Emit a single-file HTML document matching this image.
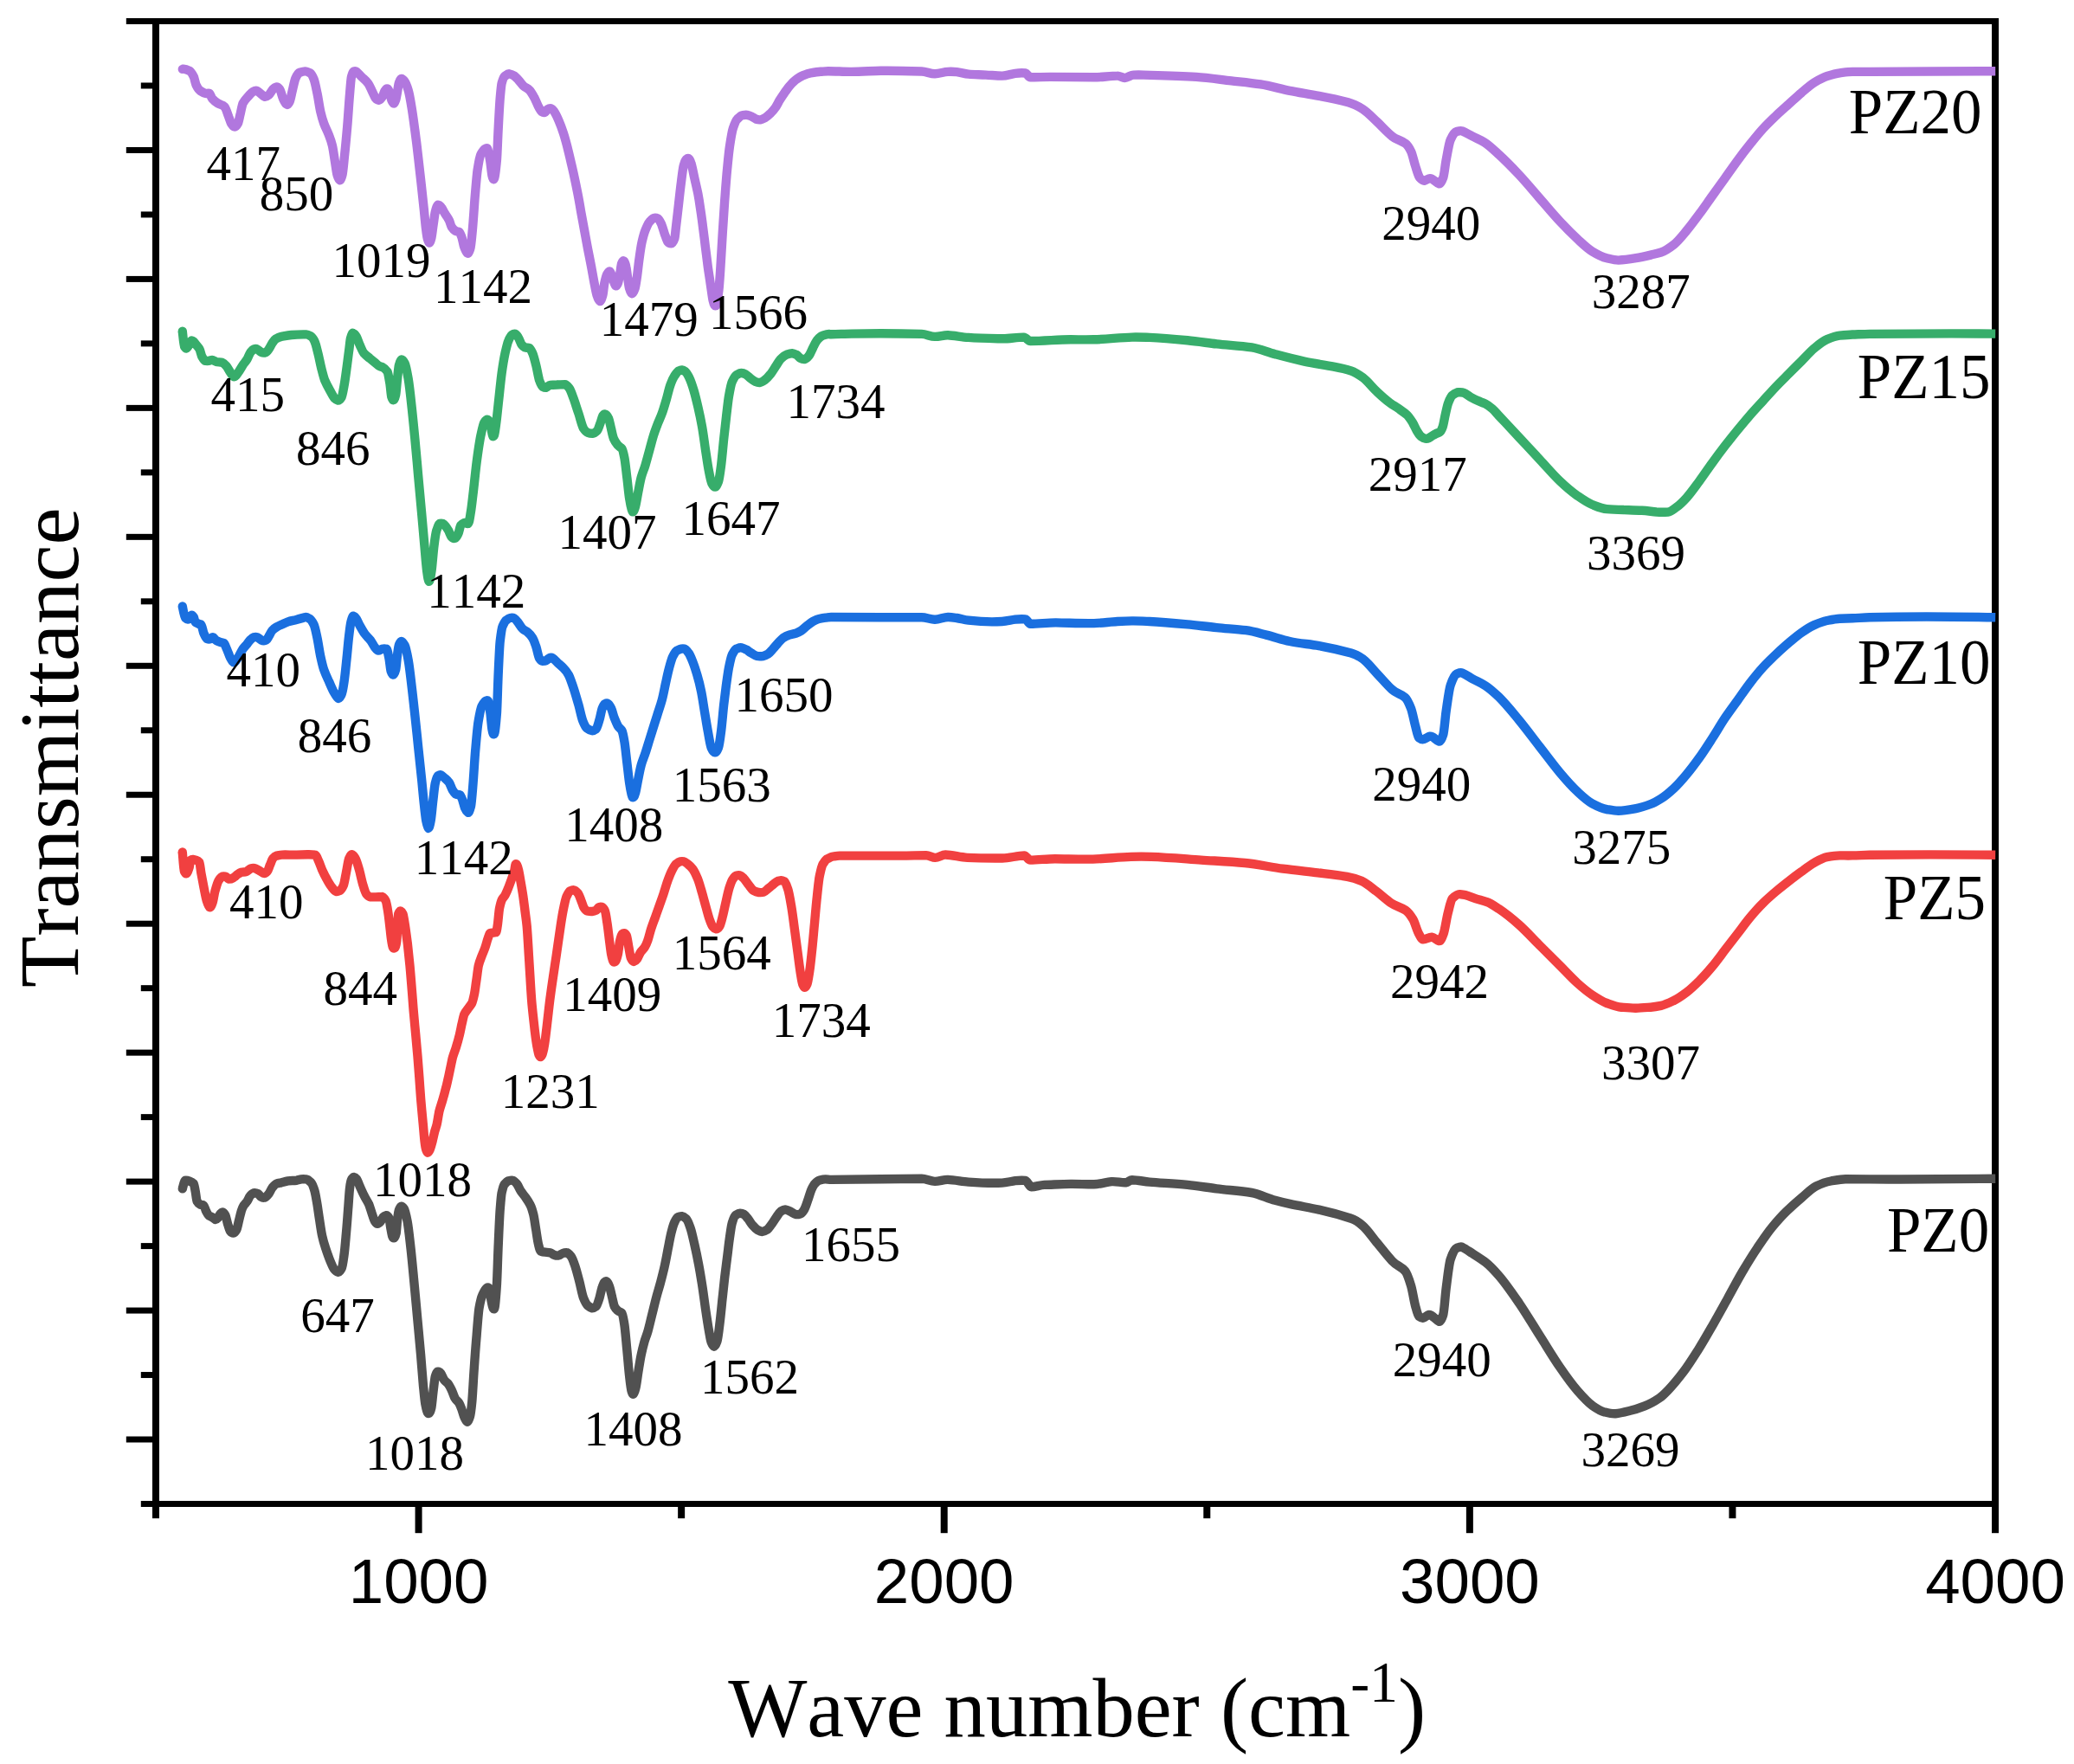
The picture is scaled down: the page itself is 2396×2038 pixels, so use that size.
<!DOCTYPE html>
<html><head><meta charset="utf-8"><title>FTIR spectra</title>
<style>html,body{margin:0;padding:0;background:#fff}svg{display:block}</style></head>
<body>
<svg xmlns="http://www.w3.org/2000/svg" width="2396" height="2038" viewBox="0 0 2396 2038">
<rect width="2396" height="2038" fill="#fff"/>
<g fill="#000">
<rect x="176.00" y="21.00" width="8.0" height="1733.20"/>
<rect x="2301.00" y="21.00" width="8.0" height="1750.20"/>
<rect x="145.80" y="21.00" width="2163.20" height="7.0"/>
<rect x="162.80" y="1734.00" width="2146.20" height="7.0"/>
<rect x="162.80" y="95.48" width="17.20" height="7.0"/>
<rect x="145.80" y="169.96" width="34.20" height="7.0"/>
<rect x="162.80" y="244.43" width="17.20" height="7.0"/>
<rect x="145.80" y="318.91" width="34.20" height="7.0"/>
<rect x="162.80" y="393.39" width="17.20" height="7.0"/>
<rect x="145.80" y="467.87" width="34.20" height="7.0"/>
<rect x="162.80" y="542.35" width="17.20" height="7.0"/>
<rect x="145.80" y="616.83" width="34.20" height="7.0"/>
<rect x="162.80" y="691.30" width="17.20" height="7.0"/>
<rect x="145.80" y="765.78" width="34.20" height="7.0"/>
<rect x="162.80" y="840.26" width="17.20" height="7.0"/>
<rect x="145.80" y="914.74" width="34.20" height="7.0"/>
<rect x="162.80" y="989.22" width="17.20" height="7.0"/>
<rect x="145.80" y="1063.70" width="34.20" height="7.0"/>
<rect x="162.80" y="1138.17" width="17.20" height="7.0"/>
<rect x="145.80" y="1212.65" width="34.20" height="7.0"/>
<rect x="162.80" y="1287.13" width="17.20" height="7.0"/>
<rect x="145.80" y="1361.61" width="34.20" height="7.0"/>
<rect x="162.80" y="1436.09" width="17.20" height="7.0"/>
<rect x="145.80" y="1510.57" width="34.20" height="7.0"/>
<rect x="162.80" y="1585.04" width="17.20" height="7.0"/>
<rect x="145.80" y="1659.52" width="34.20" height="7.0"/>
<rect x="479.57" y="1737.50" width="8.0" height="33.70"/>
<rect x="783.14" y="1737.50" width="8.0" height="16.70"/>
<rect x="1086.71" y="1737.50" width="8.0" height="33.70"/>
<rect x="1390.29" y="1737.50" width="8.0" height="16.70"/>
<rect x="1693.86" y="1737.50" width="8.0" height="33.70"/>
<rect x="1997.43" y="1737.50" width="8.0" height="16.70"/>
</g>
<g fill="none" stroke-width="10.4" stroke-linejoin="round" stroke-linecap="butt">
<path stroke="#515151" d="M210.8 1373.4C211.9 1369.2 213.0 1363.9 214.1 1363.8C215.7 1363.6 217.3 1364.1 218.9 1364.7C220.5 1365.3 222.1 1366.0 223.8 1367.6C224.4 1368.3 225.0 1373.0 225.7 1376.3C226.3 1379.6 227.0 1386.7 227.6 1387.9C228.9 1390.2 230.2 1391.1 231.5 1391.7C232.8 1392.3 234.0 1391.5 235.3 1392.7C236.3 1393.6 237.3 1397.6 238.2 1399.4C239.2 1401.3 240.1 1403.5 241.1 1404.2C242.4 1405.3 243.7 1405.3 245.0 1406.2C246.3 1407.0 247.5 1408.6 248.8 1409.1C249.8 1409.4 250.8 1408.2 251.7 1407.2C252.7 1406.1 253.6 1403.5 254.6 1402.3C255.6 1401.2 256.5 1400.4 257.5 1400.4C258.5 1400.4 259.4 1402.2 260.4 1404.2C261.4 1406.3 262.3 1411.9 263.3 1414.9C264.3 1417.8 265.2 1421.4 266.2 1422.6C267.3 1423.9 268.4 1424.6 269.5 1424.5C270.7 1424.4 272.0 1423.1 273.3 1420.7C274.2 1419.1 275.0 1414.3 275.8 1411.0C276.8 1407.2 277.8 1402.4 278.7 1399.4C279.7 1396.5 280.6 1394.2 281.6 1392.7C282.9 1390.7 284.2 1389.8 285.5 1387.9C286.8 1385.9 288.0 1382.4 289.3 1381.1C290.9 1379.5 292.5 1378.3 294.1 1378.2C295.4 1378.1 296.7 1378.5 298.0 1379.2C299.3 1379.9 300.6 1382.3 301.9 1383.0C303.1 1383.8 304.4 1384.0 305.7 1383.6C307.3 1383.2 308.9 1381.2 310.5 1379.2C311.8 1377.6 313.1 1374.1 314.4 1372.4C316.0 1370.4 317.6 1368.1 319.2 1367.6C321.1 1367.0 323.1 1366.7 325.0 1366.3C327.6 1365.6 330.1 1364.8 332.7 1364.3C335.9 1363.8 339.1 1364.2 342.4 1363.8C344.3 1363.5 346.2 1362.7 348.1 1362.4C350.1 1362.1 352.0 1362.3 353.9 1362.4C355.9 1362.5 357.8 1364.7 359.7 1366.6C361.0 1367.9 362.3 1371.9 363.6 1376.3C364.5 1379.6 365.5 1385.9 366.5 1391.7C367.4 1397.5 368.4 1404.9 369.4 1411.0C370.3 1417.1 371.3 1424.1 372.3 1428.4C373.5 1434.0 374.8 1438.0 376.1 1441.9C377.7 1446.7 379.3 1451.4 380.9 1455.4C382.5 1459.3 384.2 1463.8 385.8 1466.0C387.4 1468.2 389.0 1469.4 390.6 1469.8C392.0 1470.2 393.4 1467.5 394.8 1465.0C395.7 1463.5 396.5 1457.4 397.3 1451.5C398.2 1445.6 399.0 1435.8 399.8 1426.4C400.6 1417.8 401.4 1407.3 402.1 1397.5C402.8 1389.3 403.4 1377.4 404.1 1372.4C404.7 1367.4 405.4 1363.7 406.0 1362.8C407.0 1361.4 407.9 1359.7 408.9 1359.9C409.9 1360.0 410.8 1360.5 411.8 1361.8C413.1 1363.6 414.4 1367.6 415.6 1370.5C417.3 1374.1 418.9 1377.8 420.5 1381.1C422.4 1385.1 424.3 1387.2 426.3 1391.7C427.5 1394.7 428.8 1399.6 430.1 1403.3C431.1 1406.0 432.0 1409.4 433.0 1411.0C434.0 1412.6 434.9 1414.0 435.9 1413.9C437.2 1413.8 438.5 1412.5 439.8 1411.0C440.7 1409.9 441.7 1407.2 442.6 1406.2C443.8 1405.0 445.0 1404.5 446.1 1404.2C447.2 1404.0 448.3 1405.1 449.4 1407.2C450.0 1408.4 450.7 1415.2 451.3 1418.7C452.0 1422.2 452.6 1426.7 453.3 1428.4C453.9 1430.0 454.5 1430.3 455.2 1430.3C456.0 1430.3 456.9 1428.1 457.7 1424.5C458.1 1422.6 458.6 1412.6 459.1 1409.1C459.7 1404.0 460.3 1398.9 461.0 1397.5C461.8 1395.6 462.6 1393.7 463.5 1393.7C464.6 1393.6 465.7 1394.9 466.8 1396.5C468.0 1398.5 469.3 1404.4 470.6 1411.0C471.9 1417.6 473.2 1430.4 474.5 1441.9C475.8 1453.4 477.0 1466.9 478.3 1480.4C479.6 1493.9 480.9 1508.7 482.2 1522.9C483.5 1537.0 484.8 1550.6 486.1 1565.3C487.0 1576.3 488.0 1589.8 488.9 1600.0C489.7 1608.1 490.5 1616.8 491.2 1621.2C492.1 1626.0 492.9 1630.7 493.8 1631.8C494.4 1632.7 495.0 1633.1 495.7 1632.8C496.5 1632.4 497.4 1630.4 498.2 1627.0C499.0 1623.9 499.7 1613.8 500.5 1607.7C501.3 1601.6 502.1 1593.0 502.8 1590.4C503.9 1586.9 504.9 1584.5 505.9 1584.6C507.0 1584.7 508.1 1585.0 509.2 1586.5C510.5 1588.3 511.8 1592.4 513.0 1594.2C514.7 1596.5 516.3 1596.9 517.9 1599.0C519.2 1600.8 520.4 1603.2 521.7 1605.8C523.0 1608.4 524.3 1613.1 525.6 1615.4C527.2 1618.4 528.8 1618.4 530.4 1621.2C531.4 1622.9 532.3 1625.4 533.3 1628.0C534.3 1630.5 535.2 1634.3 536.2 1636.7C537.3 1639.3 538.4 1641.5 539.5 1642.4C540.6 1643.5 541.8 1639.6 542.9 1636.7C543.7 1634.7 544.5 1627.5 545.3 1619.3C546.1 1610.5 546.9 1592.6 547.8 1580.7C548.7 1567.0 549.7 1553.6 550.7 1542.2C551.6 1530.7 552.6 1516.8 553.5 1511.3C554.8 1503.9 556.1 1498.6 557.4 1495.9C558.7 1493.2 560.0 1490.6 561.3 1489.1C562.5 1487.6 563.8 1486.5 565.1 1488.5C565.8 1489.6 566.4 1496.3 567.0 1499.7C567.7 1503.2 568.3 1506.8 569.0 1509.4C569.6 1511.9 570.3 1512.5 570.9 1512.3C571.9 1511.9 572.9 1499.0 573.9 1484.3C574.5 1474.7 575.1 1450.4 575.8 1436.1C576.4 1421.9 577.1 1406.0 577.7 1397.5C578.4 1388.9 579.0 1381.0 579.6 1378.2C580.6 1374.0 581.6 1369.6 582.5 1368.6C584.1 1366.8 585.8 1364.8 587.4 1364.3C589.0 1363.9 590.6 1363.4 592.2 1363.8C593.8 1364.1 595.4 1365.7 597.0 1367.6C598.6 1369.5 600.2 1373.8 601.8 1376.3C603.8 1379.2 605.7 1381.2 607.6 1384.0C609.2 1386.3 610.8 1388.7 612.4 1391.7C613.7 1394.1 615.0 1398.0 616.3 1403.3C617.3 1407.3 618.2 1414.9 619.2 1420.7C620.1 1426.4 621.1 1434.2 622.1 1438.0C623.0 1441.8 624.0 1445.5 625.0 1445.7C626.6 1446.2 628.2 1446.5 629.8 1446.7C631.7 1446.9 633.6 1446.9 635.6 1447.3C637.2 1447.6 638.8 1449.4 640.4 1450.0C642.0 1450.5 643.6 1450.9 645.2 1450.5C646.8 1450.2 648.4 1448.6 650.0 1448.0C651.6 1447.4 653.3 1447.2 654.9 1447.3C656.5 1447.3 658.1 1449.5 659.7 1451.5C661.3 1453.5 662.9 1458.4 664.5 1463.1C666.1 1467.8 667.7 1474.4 669.3 1480.4C670.9 1486.5 672.5 1495.5 674.1 1499.7C675.8 1503.9 677.4 1507.1 679.0 1508.4C680.6 1509.7 682.2 1511.0 683.8 1511.3C685.4 1511.6 687.0 1510.6 688.6 1509.4C689.9 1508.3 691.2 1503.8 692.5 1499.7C693.4 1496.7 694.4 1491.1 695.4 1488.2C696.3 1485.2 697.3 1482.4 698.2 1481.4C699.2 1480.4 700.2 1480.2 701.1 1480.8C702.1 1481.4 703.1 1483.6 704.0 1486.2C705.0 1488.9 706.0 1493.9 706.9 1497.8C707.9 1501.7 708.9 1507.4 709.8 1509.4C711.1 1512.0 712.4 1513.0 713.7 1514.2C715.3 1515.7 716.9 1515.4 718.5 1517.1C719.5 1518.1 720.4 1524.1 721.4 1530.6C722.4 1537.0 723.3 1549.5 724.3 1559.5C725.3 1569.5 726.2 1582.0 727.2 1590.4C728.0 1597.6 728.9 1605.3 729.7 1607.7C730.3 1609.6 731.0 1611.0 731.6 1610.6C732.5 1610.0 733.4 1607.5 734.3 1603.9C735.4 1599.7 736.4 1590.8 737.4 1584.6C738.5 1578.0 739.6 1570.5 740.7 1565.3C742.0 1559.1 743.3 1554.2 744.5 1549.9C745.8 1545.5 747.1 1542.8 748.4 1538.3C750.0 1532.6 751.6 1525.4 753.2 1519.0C754.8 1512.6 756.4 1505.8 758.0 1499.7C759.6 1493.6 761.3 1488.4 762.9 1482.4C764.5 1476.3 766.1 1470.3 767.7 1463.1C769.0 1457.4 770.3 1450.2 771.5 1443.8C772.8 1437.4 774.1 1429.7 775.4 1424.5C776.7 1419.3 778.0 1414.5 779.3 1412.0C780.5 1409.4 781.8 1406.8 783.1 1406.2C784.7 1405.4 786.3 1405.0 787.9 1405.2C789.5 1405.4 791.2 1406.7 792.8 1408.1C794.4 1409.5 796.0 1414.1 797.6 1418.7C799.2 1423.3 800.8 1431.0 802.4 1438.0C804.0 1445.0 805.6 1452.6 807.2 1461.2C808.5 1468.0 809.8 1476.0 811.1 1484.3C812.4 1492.6 813.7 1502.6 814.9 1511.3C816.2 1520.0 817.5 1529.0 818.8 1536.4C819.8 1541.9 820.7 1548.4 821.7 1550.8C822.8 1553.6 823.9 1555.5 825.0 1555.7C826.1 1555.8 827.3 1553.1 828.4 1549.9C829.4 1547.1 830.4 1538.3 831.3 1530.6C832.3 1522.9 833.3 1512.6 834.2 1503.6C835.2 1494.6 836.2 1484.9 837.1 1476.6C838.1 1468.3 839.0 1461.1 840.0 1453.4C841.0 1445.7 841.9 1437.0 842.9 1430.3C843.9 1423.5 844.8 1416.0 845.8 1412.9C847.1 1408.8 848.4 1405.1 849.6 1404.2C851.3 1403.1 852.9 1401.8 854.5 1401.8C856.1 1401.7 857.7 1402.0 859.3 1402.9C860.9 1403.8 862.5 1406.1 864.1 1408.1C865.7 1410.1 867.3 1413.0 868.9 1414.9C870.9 1417.1 872.8 1419.5 874.7 1420.7C876.7 1421.8 878.6 1422.9 880.5 1423.0C882.4 1423.0 884.4 1421.9 886.3 1420.7C887.9 1419.6 889.5 1417.0 891.1 1414.9C893.0 1412.3 895.0 1408.9 896.9 1406.2C898.5 1403.9 900.1 1401.0 901.7 1399.8C903.7 1398.5 905.6 1397.1 907.5 1397.5C909.4 1397.9 911.4 1398.9 913.3 1399.8C915.2 1400.7 917.2 1402.2 919.1 1402.9C921.0 1403.6 922.9 1402.9 924.9 1402.3C926.3 1401.9 927.7 1399.8 929.1 1397.5C930.6 1395.1 932.1 1390.1 933.5 1385.9C934.8 1382.3 936.1 1377.3 937.4 1374.4C938.7 1371.5 940.0 1368.9 941.3 1367.6C942.9 1366.0 944.5 1364.1 946.1 1363.8C948.7 1363.1 951.2 1362.3 953.8 1362.4C955.9 1362.5 958.0 1362.9 960.1 1362.9C979.3 1362.7 998.4 1362.4 1017.5 1362.2C1033.2 1362.0 1049.0 1361.8 1064.8 1361.8C1069.8 1361.9 1074.9 1364.8 1079.9 1364.9C1085.0 1365.0 1090.1 1362.7 1095.1 1362.9C1103.0 1363.2 1110.9 1365.0 1118.8 1365.6C1131.7 1366.5 1144.6 1367.2 1157.6 1366.6C1162.6 1366.3 1167.7 1364.9 1172.8 1364.2C1176.7 1363.7 1180.6 1363.5 1184.6 1363.9C1186.8 1364.1 1189.1 1371.3 1191.3 1371.3C1196.4 1371.2 1201.4 1369.1 1206.5 1368.9C1216.6 1368.6 1226.8 1368.0 1236.9 1367.9C1245.9 1367.8 1254.9 1368.4 1263.9 1368.3C1270.6 1368.1 1277.4 1365.9 1284.1 1365.2C1289.8 1364.7 1295.4 1366.6 1301.0 1366.2C1303.3 1366.1 1305.5 1363.1 1307.8 1363.2C1314.5 1363.4 1321.3 1365.0 1328.0 1365.6C1342.6 1366.8 1357.3 1367.4 1371.9 1368.9C1383.1 1370.1 1394.4 1371.9 1405.6 1373.3C1419.1 1375.0 1432.6 1375.7 1446.1 1378.0C1455.1 1379.6 1464.1 1384.4 1473.1 1386.8C1478.8 1388.4 1484.4 1389.7 1490.0 1390.9C1501.3 1393.3 1512.5 1395.2 1523.8 1397.6C1536.1 1400.3 1548.5 1403.6 1560.9 1407.8C1565.4 1409.2 1569.9 1412.3 1574.4 1416.2C1580.0 1421.0 1585.6 1429.7 1591.3 1436.4C1596.9 1443.2 1602.5 1450.6 1608.2 1456.7C1613.2 1462.2 1618.3 1462.9 1623.3 1468.5C1625.6 1471.0 1627.8 1477.9 1630.1 1485.4C1631.8 1491.0 1633.5 1502.8 1635.2 1509.0C1636.5 1513.9 1637.9 1519.8 1639.2 1520.8C1641.0 1522.1 1642.8 1523.2 1644.6 1522.5C1646.5 1521.8 1648.5 1519.6 1650.4 1519.1C1654.3 1518.2 1658.3 1524.8 1662.2 1526.6C1663.9 1527.3 1665.6 1524.1 1667.2 1519.1C1668.4 1515.8 1669.5 1497.4 1670.6 1488.8C1672.3 1475.9 1674.0 1459.9 1675.7 1455.0C1677.9 1448.4 1680.2 1443.0 1682.4 1442.2C1684.7 1441.3 1686.9 1439.8 1689.2 1440.8C1693.1 1442.7 1697.1 1445.7 1701.0 1448.2C1706.1 1451.5 1711.1 1454.5 1716.2 1458.4C1721.3 1462.3 1726.3 1467.8 1731.4 1473.6C1739.3 1482.6 1747.1 1494.1 1755.0 1505.6C1762.9 1517.2 1770.8 1530.4 1778.6 1542.8C1786.5 1555.1 1794.4 1568.5 1802.3 1579.9C1809.0 1589.7 1815.8 1599.2 1822.5 1606.9C1828.1 1613.3 1833.8 1619.8 1839.4 1623.8C1843.9 1626.9 1848.4 1630.1 1852.9 1631.2C1857.4 1632.3 1861.9 1633.6 1866.4 1633.2C1872.0 1632.7 1877.6 1631.2 1883.3 1629.8C1888.9 1628.5 1894.5 1626.6 1900.1 1624.4C1905.8 1622.3 1911.4 1619.1 1917.0 1615.3C1920.7 1612.9 1924.3 1608.9 1928.0 1605.1C1933.7 1599.2 1939.3 1592.2 1945.0 1584.7C1950.7 1577.2 1956.3 1568.2 1962.0 1559.2C1967.7 1550.2 1973.3 1540.2 1979.0 1530.3C1984.7 1520.4 1990.4 1509.9 1996.1 1499.7C2001.8 1489.5 2007.4 1478.6 2013.1 1469.0C2018.8 1459.4 2024.4 1450.2 2030.1 1441.8C2035.8 1433.4 2041.4 1424.9 2047.1 1418.0C2052.8 1411.1 2058.4 1404.8 2064.1 1399.3C2069.8 1393.8 2075.4 1388.8 2081.1 1384.0C2086.8 1379.2 2092.4 1373.2 2098.1 1370.4C2103.8 1367.6 2109.4 1365.5 2115.1 1364.5C2120.8 1363.5 2126.4 1362.2 2132.1 1362.2C2152.7 1362.2 2173.2 1362.6 2193.8 1362.5C2230.9 1362.3 2268.0 1362.2 2305.2 1361.8"/>
<path stroke="#F14040" d="M210.8 984.4C211.5 993.9 212.2 1005.3 212.9 1006.7C213.9 1008.7 214.9 1010.1 215.9 1008.8C216.8 1007.6 217.7 1005.5 218.6 1002.4C219.1 1000.8 219.6 994.4 220.1 993.9C221.0 993.2 222.0 992.7 222.9 992.9C224.3 993.1 225.7 993.5 227.1 993.9C228.2 994.2 229.2 994.7 230.3 996.1C231.0 997.0 231.7 1004.8 232.4 1008.8C233.5 1014.7 234.6 1020.5 235.6 1025.8C236.7 1031.1 237.7 1037.1 238.8 1040.6C239.9 1044.2 240.9 1047.5 242.0 1048.0C243.2 1048.6 244.4 1046.2 245.6 1042.7C246.5 1040.1 247.4 1033.3 248.3 1030.0C249.8 1024.9 251.2 1019.5 252.6 1017.3C254.0 1015.1 255.4 1012.8 256.8 1012.6C258.2 1012.4 259.7 1012.3 261.1 1013.0C262.1 1013.6 263.2 1015.3 264.2 1015.6C266.0 1016.0 267.8 1015.1 269.6 1014.1C271.3 1013.1 273.1 1011.0 274.9 1009.9C276.3 1009.0 277.7 1008.2 279.1 1007.7C280.9 1007.2 282.6 1007.7 284.4 1007.1C286.2 1006.5 287.9 1004.1 289.7 1003.5C291.1 1003.0 292.5 1002.7 293.9 1003.1C295.7 1003.5 297.5 1004.7 299.3 1005.6C301.0 1006.5 302.8 1008.1 304.6 1008.8C306.0 1009.4 307.4 1008.2 308.8 1006.7C309.9 1005.5 310.9 1001.7 312.0 999.2C313.1 996.8 314.1 993.1 315.2 991.8C316.6 990.1 318.0 988.9 319.4 988.6C321.5 988.2 323.7 987.6 325.8 987.6C331.4 987.5 337.1 987.7 342.8 987.6C347.0 987.5 351.2 987.3 355.5 987.2C358.3 987.1 361.1 987.3 364.0 987.6C365.4 987.7 366.8 992.0 368.2 995.0C369.6 998.0 371.0 1002.5 372.4 1005.6C374.2 1009.5 376.0 1013.1 377.8 1016.2C379.5 1019.3 381.3 1022.5 383.1 1024.7C384.8 1026.9 386.6 1029.3 388.4 1030.0C389.8 1030.6 391.2 1029.7 392.6 1029.0C394.0 1028.2 395.4 1026.0 396.9 1022.6C397.9 1020.0 399.0 1012.8 400.0 1007.7C401.1 1002.6 402.1 994.7 403.2 991.8C404.3 989.0 405.3 987.0 406.4 987.2C407.8 987.4 409.2 989.2 410.6 991.8C412.1 994.4 413.5 999.7 414.9 1004.5C416.3 1009.4 417.7 1016.8 419.1 1021.5C420.5 1026.2 422.0 1031.6 423.4 1033.2C424.8 1034.8 426.2 1036.3 427.6 1036.4C429.7 1036.4 431.9 1036.4 434.0 1036.4C436.4 1036.3 438.9 1036.1 441.4 1036.0C442.8 1035.9 444.2 1038.3 445.6 1040.6C446.3 1041.8 447.0 1046.2 447.7 1050.1C448.5 1054.6 449.3 1061.2 450.0 1067.5C450.7 1072.7 451.3 1080.5 452.0 1084.9C452.6 1089.2 453.2 1093.3 453.9 1094.5C454.7 1096.1 455.6 1095.5 456.4 1094.9C457.0 1094.4 457.7 1091.6 458.3 1086.8C458.6 1084.4 459.0 1072.4 459.3 1067.5C459.6 1062.7 459.9 1056.7 460.2 1055.9C461.1 1053.9 461.9 1052.1 462.8 1052.5C463.7 1052.9 464.6 1053.9 465.5 1055.9C466.3 1057.8 467.1 1064.3 468.0 1069.4C468.9 1075.4 469.9 1082.8 470.9 1090.7C471.7 1097.8 472.6 1106.3 473.5 1115.7C474.3 1124.2 475.1 1134.8 475.9 1144.7C476.6 1152.9 477.2 1162.2 477.9 1170.0C478.7 1179.0 479.4 1186.5 480.2 1195.0C480.9 1203.1 481.7 1210.9 482.4 1219.6C483.0 1227.1 483.7 1235.5 484.3 1244.0C484.9 1252.0 485.5 1261.7 486.1 1269.2C486.6 1275.0 487.0 1279.9 487.5 1285.0C487.9 1289.7 488.4 1294.2 488.8 1298.9C489.4 1305.4 490.0 1314.1 490.6 1318.8C491.1 1323.0 491.7 1326.5 492.2 1328.0C492.8 1329.7 493.4 1331.8 494.1 1331.7C494.9 1331.6 495.7 1330.2 496.5 1328.5C497.5 1326.4 498.5 1322.5 499.5 1318.8C500.3 1315.7 501.2 1311.3 502.0 1308.0C502.9 1304.5 503.8 1302.7 504.7 1298.9C505.6 1294.9 506.6 1287.3 507.5 1283.5C508.7 1278.8 509.8 1275.9 511.0 1271.9C512.1 1268.2 513.2 1264.4 514.2 1260.4C515.2 1256.8 516.2 1253.0 517.1 1248.8C518.1 1244.6 519.1 1239.8 520.0 1235.3C521.0 1230.8 522.0 1225.4 522.9 1221.8C524.2 1217.0 525.5 1214.4 526.8 1210.2C528.1 1206.0 529.4 1201.9 530.6 1196.7C531.6 1192.9 532.6 1187.4 533.5 1183.2C534.5 1179.0 535.5 1173.7 536.4 1171.7C537.7 1169.0 539.0 1167.7 540.3 1165.9C541.9 1163.5 543.5 1161.9 545.1 1159.1C546.1 1157.4 547.0 1153.2 548.0 1148.5C548.8 1144.7 549.5 1138.3 550.3 1133.1C551.2 1127.4 552.0 1119.3 552.8 1115.7C554.1 1110.3 555.4 1107.6 556.7 1104.2C558.0 1100.7 559.3 1098.2 560.5 1094.5C561.5 1091.7 562.5 1087.6 563.4 1084.9C564.4 1082.1 565.4 1078.3 566.3 1078.1C567.6 1077.8 568.9 1077.7 570.2 1077.5C571.1 1077.4 572.1 1077.3 573.1 1077.2C573.7 1077.0 574.4 1071.7 575.0 1067.5C575.6 1063.3 576.3 1053.5 576.9 1050.1C577.9 1045.1 578.9 1041.4 579.8 1039.5C581.1 1037.1 582.4 1036.3 583.7 1033.8C585.0 1031.2 586.3 1028.3 587.5 1025.1C588.8 1021.9 590.1 1018.1 591.4 1014.5C592.4 1011.7 593.3 1009.3 594.3 1005.8C594.7 1004.3 595.1 999.7 595.5 998.9C596.6 996.6 597.8 1000.2 598.9 1004.6C599.8 1008.1 600.7 1013.9 601.6 1019.0C602.5 1024.3 603.5 1029.7 604.4 1036.0C605.1 1041.0 605.9 1047.2 606.6 1053.0C607.3 1058.5 608.0 1062.6 608.7 1070.0C609.4 1077.7 610.2 1092.4 610.9 1104.0C611.4 1112.5 612.0 1121.5 612.5 1130.0C613.0 1138.5 613.6 1148.5 614.1 1155.0C614.9 1165.2 615.8 1172.5 616.6 1180.0C617.3 1186.6 618.1 1193.4 618.8 1198.6C619.5 1203.3 620.1 1207.6 620.8 1211.0C621.4 1213.9 621.9 1217.2 622.5 1218.5C623.1 1219.9 623.8 1221.2 624.4 1221.1C625.0 1221.0 625.7 1219.8 626.3 1218.5C627.0 1217.2 627.6 1214.1 628.3 1211.0C628.9 1208.0 629.6 1203.3 630.2 1198.6C630.9 1193.1 631.7 1186.3 632.4 1180.0C633.4 1171.7 634.3 1162.6 635.3 1155.0C636.5 1145.9 637.6 1138.0 638.8 1130.0C640.1 1121.1 641.4 1112.8 642.7 1104.0C644.3 1092.9 646.0 1080.6 647.6 1070.0C648.5 1063.9 649.5 1057.7 650.4 1053.0C651.7 1046.3 653.1 1039.0 654.4 1036.0C655.8 1033.0 657.1 1030.2 658.5 1029.5C659.9 1028.8 661.3 1028.1 662.7 1028.3C664.3 1028.5 666.0 1029.9 667.6 1031.8C668.9 1033.3 670.2 1037.4 671.4 1040.5C672.4 1042.9 673.4 1046.6 674.3 1048.2C675.6 1050.4 676.9 1052.2 678.2 1052.5C680.1 1052.9 682.0 1053.2 684.0 1053.0C685.6 1052.9 687.2 1052.5 688.8 1051.7C689.8 1051.2 690.7 1048.9 691.7 1048.2C693.0 1047.3 694.3 1047.6 695.5 1047.8C696.6 1048.0 697.7 1049.8 698.8 1052.1C699.7 1053.8 700.5 1060.1 701.3 1065.6C702.2 1071.0 703.0 1078.5 703.8 1084.9C704.6 1090.7 705.4 1098.1 706.1 1102.2C706.9 1106.4 707.7 1110.1 708.5 1110.9C709.5 1112.0 710.5 1111.5 711.5 1109.9C712.3 1108.7 713.1 1105.7 713.9 1102.2C714.6 1098.7 715.4 1090.1 716.2 1086.8C717.0 1083.2 717.9 1079.8 718.7 1079.1C719.5 1078.4 720.4 1078.0 721.2 1078.1C722.1 1078.2 723.0 1079.1 723.9 1081.0C724.7 1082.8 725.6 1090.2 726.4 1094.5C727.2 1098.8 728.1 1105.2 728.9 1107.0C730.0 1109.5 731.1 1111.1 732.2 1110.9C733.5 1110.6 734.8 1109.7 736.0 1108.0C737.3 1106.3 738.6 1102.3 739.9 1100.3C741.5 1097.7 743.1 1097.0 744.7 1094.5C745.9 1092.7 747.1 1090.1 748.2 1086.9C749.5 1083.4 750.8 1077.4 752.1 1073.4C753.7 1068.5 755.3 1064.4 756.9 1059.9C758.5 1055.4 760.1 1050.9 761.7 1046.4C763.3 1041.9 764.9 1037.7 766.5 1032.9C768.1 1028.1 769.8 1021.9 771.4 1017.5C773.0 1013.1 774.6 1009.0 776.2 1005.9C777.8 1002.9 779.4 999.6 781.0 998.2C782.6 996.9 784.2 995.6 785.8 995.3C787.1 995.1 788.4 995.0 789.7 995.3C791.3 995.7 792.9 997.1 794.5 998.2C796.4 999.6 798.4 1001.6 800.3 1004.0C802.2 1006.4 804.1 1010.8 806.1 1015.6C807.7 1019.5 809.3 1025.5 810.9 1031.0C812.5 1036.5 814.1 1042.7 815.7 1048.4C817.0 1052.9 818.3 1058.2 819.6 1061.9C820.9 1065.5 822.1 1069.1 823.4 1070.5C824.7 1072.0 826.0 1073.2 827.3 1073.4C828.6 1073.6 829.9 1072.2 831.1 1070.5C832.4 1068.9 833.7 1063.0 835.0 1058.0C836.3 1053.0 837.6 1046.1 838.9 1040.7C840.1 1035.2 841.4 1029.2 842.7 1025.2C844.0 1021.2 845.3 1017.3 846.6 1015.6C847.9 1013.8 849.1 1012.1 850.4 1011.7C851.7 1011.3 853.0 1011.0 854.3 1011.3C855.9 1011.8 857.5 1013.1 859.1 1014.6C861.0 1016.5 863.0 1019.9 864.9 1022.3C866.8 1024.7 868.8 1028.0 870.7 1029.1C872.6 1030.2 874.5 1030.8 876.5 1031.0C878.4 1031.2 880.3 1031.3 882.3 1030.6C884.2 1030.0 886.1 1027.7 888.0 1026.2C890.0 1024.6 891.9 1022.9 893.8 1021.4C895.4 1020.1 897.0 1018.6 898.6 1017.9C899.9 1017.4 901.2 1017.2 902.5 1017.1C903.8 1017.0 905.1 1017.8 906.4 1018.5C907.6 1019.1 908.9 1023.2 910.2 1027.2C911.5 1031.1 912.8 1038.8 914.1 1046.4C915.4 1054.0 916.7 1064.1 917.9 1073.4C919.2 1082.7 920.5 1092.9 921.8 1102.4C922.9 1110.9 924.1 1120.7 925.3 1127.4C926.0 1131.9 926.8 1136.4 927.6 1138.0C928.4 1139.7 929.1 1141.0 929.9 1140.9C930.7 1140.9 931.6 1139.1 932.4 1137.1C933.4 1134.8 934.3 1128.0 935.3 1121.7C936.3 1115.3 937.2 1105.9 938.2 1096.6C939.2 1087.3 940.1 1076.0 941.1 1065.7C942.0 1055.4 943.0 1043.8 944.0 1034.9C944.9 1025.9 945.9 1016.3 946.9 1011.7C948.2 1005.6 949.4 1000.2 950.7 998.2C952.3 995.8 953.9 993.3 955.5 992.4C957.8 991.3 960.0 989.9 962.3 989.5C964.9 989.1 967.4 988.6 970.0 988.6C995.7 988.4 1021.4 988.7 1047.2 988.6C1054.9 988.5 1062.6 988.2 1070.2 988.2C1073.6 988.2 1077.0 990.8 1080.4 990.9C1084.3 990.9 1088.3 987.4 1092.2 987.5C1100.6 987.7 1109.1 990.5 1117.5 990.9C1131.0 991.5 1144.5 991.6 1158.0 991.5C1166.4 991.5 1174.9 988.5 1183.3 988.5C1185.6 988.5 1187.8 993.6 1190.1 993.6C1199.6 993.6 1209.2 992.2 1218.8 992.2C1233.4 992.3 1248.0 992.9 1262.6 992.6C1277.3 992.2 1291.9 990.3 1306.5 989.9C1314.4 989.6 1322.3 989.6 1330.1 989.9C1349.3 990.6 1368.4 992.3 1387.5 993.6C1404.4 994.7 1421.3 995.4 1438.1 997.0C1452.8 998.3 1467.4 1001.8 1482.0 1003.7C1495.5 1005.5 1509.0 1006.8 1522.5 1008.4C1533.8 1009.8 1545.0 1011.1 1556.3 1012.8C1561.9 1013.7 1567.5 1015.5 1573.1 1017.9C1578.8 1020.3 1584.4 1025.5 1590.0 1029.7C1595.6 1033.9 1601.3 1039.3 1606.9 1043.2C1612.5 1047.1 1618.1 1047.9 1623.8 1051.6C1626.6 1053.5 1629.4 1057.2 1632.2 1061.8C1634.5 1065.4 1636.7 1074.6 1639.0 1078.6C1640.6 1081.7 1642.3 1085.2 1644.0 1085.4C1647.4 1085.7 1650.8 1082.4 1654.2 1082.7C1657.0 1082.9 1659.8 1086.4 1662.6 1087.1C1664.3 1087.5 1666.0 1083.2 1667.7 1078.6C1669.3 1074.1 1671.0 1061.6 1672.7 1055.0C1674.4 1048.4 1676.1 1039.9 1677.8 1038.1C1680.6 1035.3 1683.4 1032.8 1686.2 1033.1C1688.3 1033.3 1690.5 1033.5 1692.6 1034.1C1696.5 1035.2 1700.4 1036.8 1704.4 1038.1C1708.9 1039.6 1713.4 1040.5 1717.9 1042.2C1722.4 1043.9 1726.9 1047.0 1731.4 1049.9C1739.3 1055.1 1747.1 1061.5 1755.0 1068.5C1762.9 1075.5 1770.8 1084.3 1778.6 1092.1C1786.5 1100.0 1794.4 1107.9 1802.3 1115.8C1809.0 1122.5 1815.8 1130.0 1822.5 1136.0C1828.1 1141.0 1833.8 1145.8 1839.4 1149.5C1845.0 1153.2 1850.6 1156.9 1856.3 1159.0C1861.9 1161.0 1867.5 1163.2 1873.1 1163.7C1878.8 1164.2 1884.4 1164.8 1890.0 1164.7C1895.6 1164.6 1901.3 1164.1 1906.9 1163.7C1910.9 1163.4 1915.0 1162.7 1919.0 1161.9C1923.9 1160.9 1928.8 1158.4 1933.7 1156.0C1938.6 1153.6 1943.6 1150.1 1948.5 1146.4C1953.4 1142.7 1958.3 1137.9 1963.2 1133.1C1968.1 1128.3 1973.0 1122.8 1977.9 1116.9C1982.8 1111.0 1987.8 1104.1 1992.7 1097.7C1997.6 1091.3 2002.5 1085.0 2007.4 1078.6C2012.3 1072.2 2017.3 1065.3 2022.2 1059.4C2027.1 1053.5 2032.0 1048.0 2036.9 1043.2C2041.8 1038.4 2046.8 1034.1 2051.7 1029.9C2056.6 1025.8 2061.5 1021.9 2066.4 1018.1C2071.3 1014.3 2076.2 1010.6 2081.1 1007.1C2086.0 1003.5 2091.0 999.6 2095.9 996.8C2100.8 994.0 2105.7 991.0 2110.6 990.1C2115.5 989.2 2120.5 988.4 2125.4 988.4C2130.3 988.4 2135.2 988.5 2140.1 988.4C2146.7 988.3 2153.4 987.9 2160.0 987.8C2208.4 987.2 2256.8 987.3 2305.2 987.8"/>
<path stroke="#1A6FDF" d="M210.8 700.5C211.9 706.3 213.0 713.0 214.1 714.0C215.4 715.2 216.7 716.1 218.0 715.0C218.9 714.1 219.9 711.7 220.9 711.1C221.8 710.5 222.8 711.6 223.8 713.0C224.4 714.0 225.0 718.3 225.7 718.8C227.0 719.9 228.3 720.2 229.5 720.8C230.5 721.2 231.5 721.0 232.4 721.7C233.4 722.4 234.4 729.1 235.3 731.4C236.6 734.3 237.9 737.7 239.2 738.1C240.5 738.5 241.8 738.6 243.0 738.1C244.0 737.7 245.0 736.1 245.9 736.2C247.2 736.3 248.5 739.4 249.8 740.0C251.4 740.9 253.0 741.4 254.6 742.0C255.9 742.4 257.2 742.3 258.5 742.9C259.8 743.6 261.0 747.8 262.3 750.6C263.6 753.5 264.9 758.0 266.2 760.3C267.7 762.9 269.1 765.7 270.6 765.1C272.4 764.5 274.1 761.1 275.8 758.4C277.4 755.8 279.0 752.0 280.6 749.7C282.3 747.4 283.9 745.9 285.5 743.9C286.8 742.3 288.0 740.3 289.3 739.1C290.6 737.8 291.9 736.6 293.2 736.2C294.5 735.8 295.8 735.7 297.0 736.2C298.6 736.8 300.3 738.7 301.9 739.5C303.8 740.4 305.7 740.5 307.6 739.5C308.6 739.0 309.6 736.8 310.5 735.2C311.8 733.2 313.1 729.9 314.4 728.5C316.0 726.7 317.6 725.5 319.2 724.6C321.1 723.5 323.1 722.6 325.0 721.7C327.6 720.6 330.1 719.3 332.7 718.4C335.9 717.4 339.1 716.8 342.4 715.9C344.3 715.4 346.2 714.9 348.1 714.4C349.8 714.0 351.4 713.3 353.0 713.0C354.6 712.7 356.2 714.1 357.8 715.0C359.4 715.8 361.0 718.5 362.6 721.7C363.9 724.3 365.2 731.1 366.5 737.1C367.8 743.2 369.0 752.4 370.3 758.4C371.6 764.3 372.9 770.2 374.2 773.8C376.1 779.2 378.0 783.0 380.0 787.3C381.9 791.6 383.8 796.4 385.8 799.8C387.4 802.7 389.0 805.4 390.6 806.6C391.9 807.5 393.2 804.9 394.4 802.7C395.4 801.1 396.4 795.2 397.3 789.2C398.3 783.3 399.3 773.1 400.2 764.1C401.2 755.2 402.1 743.3 403.1 735.2C403.9 728.2 404.8 720.7 405.6 717.9C406.5 714.8 407.4 711.5 408.3 711.7C409.5 712.0 410.6 713.1 411.8 715.0C413.1 717.1 414.4 720.4 415.6 722.7C417.6 726.2 419.5 729.7 421.4 732.3C423.7 735.4 425.9 737.0 428.2 740.0C429.8 742.2 431.4 745.7 433.0 747.8C434.3 749.4 435.6 751.7 436.9 751.6C438.5 751.5 440.1 750.2 441.7 749.7C443.3 749.2 444.9 749.3 446.5 749.7C447.5 749.9 448.4 755.7 449.4 760.3C450.2 764.0 450.9 773.3 451.7 775.7C452.6 778.4 453.4 779.5 454.2 779.6C455.2 779.6 456.2 777.5 457.1 773.8C457.8 771.3 458.4 761.1 459.1 756.4C459.7 751.8 460.3 746.3 461.0 744.9C461.9 742.7 462.9 740.8 463.9 741.0C465.2 741.3 466.4 743.4 467.7 745.8C469.0 748.3 470.3 755.2 471.6 762.2C472.9 769.2 474.2 780.6 475.4 791.1C476.7 801.7 478.0 813.9 479.3 825.9C480.6 837.7 481.9 850.3 483.1 862.5C484.4 874.7 485.7 886.5 487.0 899.2C488.0 908.7 488.9 920.1 489.9 928.8C490.7 936.4 491.6 944.6 492.4 948.9C493.2 952.8 494.0 956.4 494.7 956.8C495.7 957.2 496.7 953.6 497.6 948.4C498.5 943.9 499.3 933.4 500.1 926.4C501.0 918.9 501.9 908.9 502.8 904.9C503.9 900.4 504.9 896.9 505.9 896.3C507.0 895.6 508.1 894.7 509.2 895.3C510.8 896.2 512.4 897.8 514.0 899.1C515.6 900.5 517.2 901.8 518.8 904.0C520.1 905.7 521.4 910.6 522.7 912.6C524.0 914.7 525.3 916.5 526.5 917.5C528.2 918.7 529.8 917.2 531.4 918.4C532.3 919.2 533.3 921.8 534.3 924.2C535.2 926.7 536.2 931.6 537.2 933.9C538.3 936.6 539.5 938.0 540.6 938.7C541.7 939.3 542.8 935.8 543.9 931.9C544.7 929.0 545.6 916.9 546.4 906.9C547.3 896.1 548.2 879.0 549.1 868.3C550.3 854.6 551.4 840.5 552.6 833.6C553.9 825.9 555.2 818.7 556.4 816.2C557.7 813.7 559.0 811.7 560.3 810.4C561.6 809.2 562.9 808.8 564.2 810.1C564.9 810.8 565.7 818.6 566.5 824.4C567.1 829.2 567.8 838.3 568.4 842.3C569.2 847.1 569.9 848.4 570.7 848.2C571.8 848.0 572.8 837.9 573.9 824.3C574.5 815.9 575.1 789.2 575.8 775.7C576.4 762.3 577.1 746.5 577.7 741.0C578.7 732.6 579.6 725.7 580.6 723.6C581.9 720.9 583.2 717.8 584.5 716.9C586.1 715.7 587.7 714.3 589.3 714.0C590.9 713.7 592.5 713.6 594.1 714.4C595.7 715.2 597.3 717.8 598.9 719.8C600.5 721.8 602.1 724.9 603.8 726.5C605.7 728.5 607.6 728.8 609.5 730.4C611.5 732.0 613.4 734.2 615.3 737.1C616.6 739.1 617.9 743.1 619.2 746.8C620.5 750.5 621.8 758.3 623.0 760.3C624.3 762.3 625.6 763.7 626.9 763.8C628.2 763.8 629.5 763.8 630.8 763.2C632.0 762.6 633.3 760.8 634.6 760.3C635.9 759.7 637.2 759.6 638.5 760.3C640.4 761.3 642.3 763.9 644.2 765.7C646.5 767.8 648.8 769.6 651.0 771.9C652.9 773.8 654.9 776.2 656.8 779.6C658.7 782.9 660.6 789.3 662.6 795.0C664.5 800.7 666.4 807.5 668.4 814.3C670.0 820.0 671.6 828.5 673.2 832.6C674.8 836.7 676.4 840.1 678.0 841.3C679.9 842.7 681.9 843.9 683.8 844.2C685.4 844.4 687.0 843.5 688.6 842.3C689.9 841.2 691.2 835.9 692.5 831.6C693.6 828.0 694.7 820.8 695.8 818.1C696.8 815.7 697.8 813.9 698.8 813.3C699.9 812.7 701.0 812.3 702.1 812.8C703.4 813.3 704.7 815.5 706.0 818.1C707.3 820.8 708.5 826.4 709.8 829.7C711.1 833.0 712.4 836.0 713.7 838.4C715.3 841.4 716.9 841.2 718.5 844.2C719.5 846.0 720.4 851.1 721.4 856.9C722.4 862.7 723.3 872.8 724.3 880.8C725.3 888.8 726.2 898.5 727.2 904.8C728.3 912.0 729.4 919.5 730.5 920.8C731.6 922.3 732.8 920.7 733.9 916.7C734.9 913.3 735.9 907.1 736.8 902.4C738.1 896.1 739.4 888.6 740.7 884.0C742.3 878.1 743.9 875.2 745.5 870.2C747.1 865.3 748.7 859.9 750.3 854.8C751.9 849.6 753.5 844.5 755.1 839.4C756.8 834.2 758.4 829.1 760.0 823.9C761.6 818.8 763.2 814.5 764.8 808.5C766.1 803.7 767.4 796.9 768.6 791.1C769.9 785.4 771.2 778.7 772.5 773.8C774.1 767.7 775.7 761.4 777.3 758.4C778.9 755.3 780.5 752.5 782.1 751.6C783.8 750.8 785.4 750.0 787.0 749.7C788.3 749.5 789.5 749.5 790.8 749.7C792.4 750.0 794.0 752.3 795.6 754.5C797.3 756.7 798.9 761.1 800.5 765.1C802.1 769.1 803.7 774.2 805.3 779.6C806.9 784.9 808.5 791.0 810.1 798.9C811.4 805.1 812.7 814.6 814.0 822.3C815.3 830.0 816.5 837.9 817.8 844.9C819.1 851.8 820.4 860.8 821.7 863.9C823.2 867.4 824.6 869.3 826.1 869.4C827.4 869.5 828.7 866.8 830.0 863.7C831.1 861.0 832.2 851.6 833.3 843.0C834.2 835.4 835.2 823.4 836.1 814.9C837.1 806.3 838.1 798.2 839.0 791.2C840.0 784.1 841.0 776.7 841.9 771.9C843.2 765.4 844.5 758.9 845.8 756.4C847.4 753.4 849.0 750.3 850.6 749.7C852.5 749.0 854.5 747.9 856.4 748.3C858.3 748.8 860.3 749.6 862.2 750.6C864.1 751.7 866.0 753.4 868.0 754.5C870.2 755.8 872.5 757.4 874.7 758.0C877.0 758.5 879.2 758.3 881.5 758.0C883.4 757.7 885.3 756.7 887.3 755.5C889.2 754.3 891.1 751.8 893.0 749.7C895.0 747.6 896.9 745.0 898.8 742.9C900.8 740.8 902.7 738.5 904.6 737.1C906.9 735.6 909.1 734.4 911.4 733.7C913.9 732.8 916.5 732.6 919.1 731.8C921.3 731.0 923.6 729.9 925.8 728.5C928.1 727.0 930.3 724.4 932.6 722.7C934.8 720.9 937.1 719.1 939.3 717.9C941.6 716.7 943.8 715.5 946.1 715.0C948.7 714.4 951.2 713.9 953.8 713.6C955.9 713.4 958.0 713.0 960.1 713.0C979.3 713.0 998.4 713.3 1017.5 713.3C1033.2 713.4 1049.0 713.3 1064.8 713.3C1069.8 713.3 1074.9 715.6 1079.9 715.7C1085.0 715.8 1090.1 713.1 1095.1 713.0C1098.5 712.9 1101.9 713.5 1105.3 714.0C1109.8 714.7 1114.3 716.2 1118.8 716.7C1131.7 718.2 1144.6 719.0 1157.6 718.0C1162.6 717.7 1167.7 716.4 1172.8 715.7C1176.7 715.2 1180.6 715.0 1184.6 715.4C1186.5 715.5 1188.4 720.7 1190.3 720.8C1200.2 720.8 1210.1 719.3 1220.0 719.4C1234.6 719.6 1249.3 720.4 1263.9 720.1C1272.9 719.9 1281.9 718.5 1290.9 718.0C1296.5 717.7 1302.1 717.4 1307.8 717.4C1314.5 717.3 1321.3 717.7 1328.0 718.0C1342.6 718.8 1357.3 720.1 1371.9 721.4C1383.1 722.5 1394.4 724.0 1405.6 725.1C1416.9 726.3 1428.1 726.7 1439.4 728.2C1447.3 729.2 1455.1 731.6 1463.0 733.6C1472.0 735.8 1481.0 739.1 1490.0 741.0C1501.3 743.4 1512.5 744.1 1523.8 746.1C1536.1 748.3 1548.5 751.1 1560.9 754.5C1565.4 755.7 1569.9 758.1 1574.4 761.2C1580.0 765.2 1585.6 772.9 1591.3 778.8C1596.9 784.7 1602.5 791.5 1608.2 796.7C1613.2 801.4 1618.3 801.4 1623.3 805.8C1625.6 807.8 1627.8 812.6 1630.1 818.6C1631.8 823.1 1633.5 832.7 1635.2 838.9C1636.5 843.8 1637.9 851.3 1639.2 852.4C1641.0 853.8 1642.8 854.6 1644.6 854.1C1647.1 853.3 1649.6 851.2 1652.1 850.7C1655.4 850.0 1658.8 855.1 1662.2 856.4C1663.9 857.1 1665.6 853.9 1667.2 849.0C1668.4 845.8 1669.5 829.7 1670.6 822.0C1672.3 810.5 1674.0 796.5 1675.7 791.6C1677.9 785.2 1680.2 779.7 1682.4 778.8C1684.7 777.9 1686.9 776.5 1689.2 777.5C1693.1 779.2 1697.1 782.0 1701.0 784.2C1706.1 787.0 1711.1 789.1 1716.2 792.3C1721.3 795.5 1726.3 800.2 1731.4 805.1C1739.3 812.8 1747.1 822.6 1755.0 832.1C1762.9 841.7 1770.8 852.4 1778.6 862.5C1786.5 872.6 1794.4 883.6 1802.3 892.9C1809.0 900.9 1815.8 908.6 1822.5 914.8C1828.1 920.0 1833.8 925.4 1839.4 928.3C1845.0 931.3 1850.6 934.0 1856.3 935.1C1860.8 935.9 1865.3 936.9 1869.8 936.8C1876.5 936.6 1883.3 935.3 1890.0 934.1C1895.6 933.0 1901.3 931.1 1906.9 929.0C1910.9 927.5 1915.0 925.1 1919.0 922.6C1923.9 919.6 1928.8 915.3 1933.7 910.8C1938.6 906.3 1943.6 900.5 1948.5 894.6C1953.4 888.8 1958.3 882.2 1963.2 875.4C1968.1 868.6 1973.0 860.9 1977.9 853.3C1982.8 845.7 1987.8 837.1 1992.7 829.7C1997.6 822.4 2002.5 815.9 2007.4 809.1C2012.3 802.2 2017.3 794.9 2022.2 788.5C2027.1 782.2 2032.0 776.1 2036.9 770.8C2041.8 765.4 2046.8 760.6 2051.7 756.0C2056.6 751.4 2061.5 746.9 2066.4 742.8C2071.3 738.7 2076.2 734.4 2081.1 731.0C2086.0 727.6 2091.0 724.2 2095.9 722.1C2100.8 720.0 2105.7 718.0 2110.6 717.0C2115.5 716.0 2120.5 714.9 2125.4 714.7C2130.3 714.5 2135.2 714.5 2140.1 714.3C2146.7 714.0 2153.4 713.5 2160.0 713.3C2208.4 712.0 2256.8 712.4 2305.2 713.3"/>
<path stroke="#37AD6B" d="M210.8 382.8C211.6 390.4 212.4 399.4 213.1 400.5C214.1 401.9 215.1 403.2 216.0 402.0C217.0 400.9 218.0 399.3 218.9 397.6C219.6 396.5 220.2 394.2 220.9 393.8C221.8 393.1 222.8 393.8 223.8 394.7C225.0 396.0 226.3 397.9 227.6 399.5C228.6 400.8 229.5 401.7 230.5 403.4C231.5 405.1 232.4 410.3 233.4 412.1C234.7 414.4 236.0 416.7 237.2 416.9C238.5 417.0 239.8 417.1 241.1 416.9C242.4 416.7 243.7 415.9 245.0 415.9C246.6 416.0 248.2 417.4 249.8 417.9C252.0 418.5 254.3 418.2 256.5 418.8C258.1 419.3 259.8 420.9 261.4 422.7C263.0 424.5 264.6 428.2 266.2 430.4C267.7 432.4 269.1 435.3 270.6 435.2C272.4 435.2 274.1 431.8 275.8 429.4C277.4 427.2 279.0 424.2 280.6 421.7C282.3 419.3 283.9 417.6 285.5 415.0C286.8 412.9 288.0 409.0 289.3 407.2C290.6 405.5 291.9 403.8 293.2 403.4C294.5 403.0 295.8 402.8 297.0 403.4C298.6 404.1 300.3 406.1 301.9 406.9C303.5 407.6 305.1 407.7 306.7 407.2C308.0 406.9 309.3 405.1 310.5 403.4C311.8 401.7 313.1 398.5 314.4 396.6C315.7 394.8 317.0 392.6 318.2 391.8C320.5 390.5 322.8 389.4 325.0 388.9C328.9 388.2 332.7 387.4 336.6 387.0C342.4 386.4 348.1 386.3 353.9 386.4C355.9 386.4 357.8 387.8 359.7 388.9C361.0 389.7 362.3 392.0 363.6 394.7C364.9 397.4 366.1 403.1 367.4 408.2C368.7 413.3 370.0 420.5 371.3 425.6C372.6 430.7 373.9 435.9 375.1 439.1C377.1 443.8 379.0 447.2 380.9 450.6C382.9 454.1 384.8 458.3 386.7 460.3C388.0 461.6 389.3 462.3 390.6 462.6C391.9 462.9 393.2 461.2 394.4 459.3C395.4 457.9 396.4 451.9 397.3 446.8C398.3 441.6 399.3 434.4 400.2 427.5C401.2 420.6 402.1 412.7 403.1 405.4C403.8 400.5 404.4 393.2 405.0 390.8C406.0 387.2 407.0 384.6 407.9 385.0C409.2 385.4 410.5 386.7 411.8 389.1C413.1 391.5 414.4 395.7 415.6 398.5C417.3 402.1 418.9 406.4 420.5 408.2C422.7 410.8 425.0 412.1 427.2 414.0C429.2 415.6 431.1 417.2 433.0 418.8C434.6 420.1 436.2 421.6 437.8 422.7C439.4 423.7 441.0 423.8 442.6 424.6C444.3 425.4 445.9 427.1 447.5 429.4C448.4 430.8 449.4 437.2 450.4 442.9C451.0 446.7 451.7 456.0 452.3 458.4C453.1 461.1 453.8 462.3 454.6 462.2C455.4 462.1 456.3 460.2 457.1 456.4C457.8 453.6 458.4 442.9 459.1 437.1C459.7 431.5 460.3 424.0 461.0 421.7C461.9 418.2 462.9 415.6 463.9 415.5C465.2 415.5 466.4 417.2 467.7 419.8C469.0 422.4 470.3 429.7 471.6 437.1C472.9 444.6 474.2 456.5 475.4 468.0C476.7 479.5 478.0 493.1 479.3 506.6C480.6 520.1 481.9 534.9 483.1 549.0C484.4 563.2 485.7 577.0 487.0 591.4C488.2 604.4 489.3 618.5 490.5 631.4C491.4 641.3 492.3 653.4 493.2 660.0C494.0 666.1 494.9 671.9 495.7 671.9C496.7 671.9 497.6 665.6 498.6 659.0C499.5 652.3 500.5 637.6 501.5 630.3C502.4 623.0 503.4 615.4 504.4 612.6C505.7 609.0 506.9 605.2 508.2 604.9C509.8 604.6 511.4 604.5 513.0 605.9C514.7 607.3 516.3 610.0 517.9 612.6C519.2 614.8 520.4 618.8 521.7 620.4C523.0 621.9 524.3 622.3 525.6 621.9C526.9 621.5 528.2 619.1 529.4 616.5C530.4 614.5 531.4 608.1 532.3 606.9C533.6 605.2 534.9 604.5 536.2 604.0C537.8 603.4 539.4 605.5 541.0 604.9C542.0 604.6 542.9 597.3 543.9 591.4C544.9 585.6 545.8 576.5 546.8 568.3C548.1 557.4 549.4 543.3 550.7 533.6C552.3 521.4 553.9 510.2 555.5 502.7C556.8 496.7 558.0 490.5 559.3 488.2C560.9 485.5 562.5 483.9 564.2 485.4C565.1 486.2 566.1 489.7 567.0 493.1C567.7 495.3 568.3 500.7 569.0 502.7C569.6 504.8 570.3 504.5 571.0 502.7C571.9 500.1 572.9 491.2 573.9 483.4C574.8 475.7 575.8 465.1 576.8 456.4C577.7 447.8 578.7 438.2 579.6 431.4C580.9 422.2 582.2 414.0 583.5 408.2C584.8 402.4 586.1 396.4 587.4 393.6C588.6 390.8 589.9 388.1 591.2 387.1C592.5 386.2 593.8 385.4 595.1 385.8C596.4 386.2 597.6 388.1 598.9 390.1C600.2 392.0 601.5 396.9 602.8 398.4C604.1 400.0 605.4 400.9 606.6 401.5C608.2 402.1 609.9 401.4 611.5 402.0C612.8 402.6 614.0 405.4 615.3 408.2C616.6 411.1 617.9 416.7 619.2 421.7C620.5 426.8 621.8 435.3 623.0 439.1C624.3 442.8 625.6 446.1 626.9 446.8C628.2 447.5 629.5 448.3 630.8 447.8C632.4 447.1 634.0 445.0 635.6 444.9C638.1 444.7 640.7 444.6 643.3 444.5C646.5 444.3 649.7 444.2 652.9 444.1C654.5 444.1 656.1 446.5 657.8 448.7C659.4 451.0 661.0 455.9 662.6 460.3C664.5 465.5 666.4 471.9 668.4 477.6C670.3 483.4 672.2 491.8 674.1 495.0C675.8 497.6 677.4 499.3 679.0 499.8C680.9 500.5 682.8 500.9 684.8 500.8C686.4 500.7 688.0 499.5 689.6 497.9C690.9 496.7 692.1 492.5 693.4 489.2C694.4 486.7 695.4 482.1 696.3 480.5C697.3 479.0 698.3 478.4 699.2 478.6C700.5 478.8 701.8 480.6 703.1 483.4C704.0 485.6 705.0 491.1 706.0 495.0C706.9 498.9 707.9 504.3 708.9 506.6C710.5 510.4 712.1 512.3 713.7 514.3C715.3 516.3 716.9 516.3 718.5 518.4C719.5 519.6 720.4 524.0 721.4 529.0C722.4 534.0 723.3 543.8 724.3 551.7C725.3 559.5 726.2 569.9 727.2 576.1C728.3 583.0 729.4 590.2 730.5 591.1C731.6 592.1 732.8 589.9 733.9 585.7C734.9 582.1 735.9 575.7 736.8 570.9C738.1 564.4 739.4 556.6 740.7 551.7C742.3 545.6 743.9 542.8 745.5 537.4C747.1 532.0 748.7 525.9 750.3 520.1C751.9 514.3 753.5 507.8 755.1 502.7C756.8 497.6 758.4 493.4 760.0 489.2C761.6 485.1 763.2 482.1 764.8 477.6C766.4 473.2 768.0 467.7 769.6 462.2C771.2 456.8 772.8 449.3 774.4 444.9C776.0 440.4 777.7 436.6 779.3 434.2C780.9 431.9 782.5 429.2 784.1 428.5C785.4 427.8 786.7 427.4 787.9 427.5C789.2 427.6 790.5 428.5 791.8 429.4C793.4 430.6 795.0 434.0 796.6 437.1C798.2 440.3 799.8 445.4 801.4 450.6C803.0 455.9 804.7 463.0 806.3 469.9C807.9 476.8 809.5 484.1 811.1 493.1C812.4 500.4 813.7 510.6 814.9 519.0C816.2 527.4 817.5 536.9 818.8 543.6C819.9 549.6 821.1 555.9 822.3 558.3C823.6 560.9 824.8 562.6 826.1 562.6C827.4 562.7 828.7 559.6 830.0 556.3C831.1 553.4 832.2 544.4 833.3 535.9C834.2 528.3 835.2 516.7 836.1 507.8C837.1 498.8 838.1 490.1 839.0 481.8C840.0 473.6 841.0 464.0 841.9 458.4C843.2 450.8 844.5 443.7 845.8 441.0C847.4 437.6 849.0 434.1 850.6 433.3C852.5 432.3 854.5 430.9 856.4 431.0C858.0 431.1 859.6 431.5 861.2 432.3C863.1 433.3 865.1 435.7 867.0 437.1C868.9 438.6 870.9 440.2 872.8 441.0C874.4 441.7 876.0 442.1 877.6 442.0C879.5 441.8 881.5 440.4 883.4 439.1C885.6 437.6 887.9 435.1 890.1 432.3C892.1 430.0 894.0 426.5 895.9 423.6C897.9 420.8 899.8 417.0 901.7 415.0C904.0 412.6 906.2 410.6 908.5 409.8C910.7 409.0 913.0 408.1 915.2 408.2C916.8 408.3 918.4 409.0 920.0 409.8C921.7 410.6 923.3 413.1 924.9 414.0C926.5 414.9 928.1 415.2 929.7 415.0C931.3 414.8 932.9 413.1 934.5 411.1C936.1 409.1 937.7 404.5 939.3 401.5C940.9 398.4 942.5 394.7 944.2 392.8C946.1 390.5 948.0 388.6 949.9 388.0C952.5 387.1 955.1 385.9 957.7 386.0C958.5 386.1 959.3 386.3 960.1 386.2C968.0 386.1 975.9 385.7 983.8 385.6C1010.8 385.1 1037.8 385.2 1064.8 385.9C1069.8 386.0 1074.9 388.8 1079.9 388.9C1085.0 389.1 1090.1 387.0 1095.1 387.2C1103.0 387.6 1110.9 389.5 1118.8 389.9C1131.7 390.8 1144.6 391.0 1157.6 391.3C1166.0 391.5 1174.4 389.5 1182.9 389.6C1185.4 389.6 1187.8 394.0 1190.3 394.0C1205.8 394.0 1221.4 392.4 1236.9 392.3C1245.9 392.3 1254.9 392.5 1263.9 392.3C1278.5 392.0 1293.1 390.0 1307.8 389.6C1314.5 389.4 1321.3 389.7 1328.0 389.9C1342.6 390.6 1357.3 391.9 1371.9 393.3C1383.1 394.4 1394.4 396.1 1405.6 397.4C1419.1 398.9 1432.6 399.3 1446.1 401.4C1455.1 402.8 1464.1 406.8 1473.1 409.2C1484.4 412.2 1495.6 415.2 1506.9 417.6C1518.1 420.0 1529.4 421.5 1540.7 423.7C1547.4 425.0 1554.2 426.4 1560.9 428.4C1565.4 429.8 1569.9 432.8 1574.4 436.2C1580.0 440.4 1585.6 447.9 1591.3 453.1C1596.1 457.6 1601.0 462.0 1605.9 465.6C1609.2 468.0 1612.4 469.8 1615.7 472.1C1619.0 474.4 1622.3 476.5 1625.6 479.5C1627.8 481.5 1629.9 485.0 1632.1 488.5C1633.7 491.2 1635.4 495.3 1637.0 498.0C1638.3 500.2 1639.7 502.4 1641.0 503.6C1642.2 504.6 1643.3 505.6 1644.5 506.0C1645.6 506.4 1646.6 506.9 1647.7 506.9C1648.7 506.9 1649.8 506.5 1650.8 506.0C1651.9 505.5 1652.9 504.6 1654.0 503.9C1655.5 503.0 1656.9 502.1 1658.4 501.3C1660.0 500.4 1661.7 500.1 1663.3 499.2C1664.4 498.6 1665.5 496.4 1666.6 493.4C1667.7 490.5 1668.7 483.2 1669.8 478.7C1670.9 474.0 1672.0 468.4 1673.1 465.6C1674.7 461.4 1676.4 457.7 1678.0 456.6C1680.2 455.1 1682.4 453.5 1684.6 453.3C1686.8 453.1 1688.9 453.0 1691.1 453.8C1693.8 454.8 1696.6 457.5 1699.3 459.0C1702.0 460.5 1704.8 461.9 1707.5 463.1C1710.2 464.3 1713.0 465.1 1715.7 466.4C1718.4 467.7 1721.2 469.8 1723.9 472.1C1726.4 474.2 1728.9 477.4 1731.4 480.1C1739.3 488.5 1747.1 496.9 1755.0 505.4C1762.9 513.8 1770.8 522.3 1778.6 530.7C1786.5 539.1 1794.4 548.6 1802.3 556.0C1809.0 562.4 1815.8 568.2 1822.5 572.9C1828.1 576.8 1833.8 580.8 1839.4 583.0C1845.0 585.2 1850.6 587.7 1856.3 588.1C1863.0 588.5 1869.8 588.8 1876.5 589.1C1883.3 589.3 1890.0 589.4 1896.8 589.8C1902.4 590.1 1908.0 591.0 1913.6 591.5C1918.1 591.8 1922.6 591.8 1927.1 591.5C1930.3 591.2 1933.5 588.2 1936.7 586.0C1940.6 583.2 1944.6 579.2 1948.5 574.9C1953.4 569.5 1958.3 562.4 1963.2 555.8C1968.1 549.2 1973.0 541.8 1977.9 535.1C1982.8 528.3 1987.8 521.6 1992.7 515.2C1997.6 508.9 2002.5 502.8 2007.4 496.8C2012.3 490.8 2017.3 484.8 2022.2 479.1C2027.1 473.5 2032.0 468.3 2036.9 462.9C2041.8 457.5 2046.8 451.9 2051.7 446.7C2056.6 441.6 2061.5 436.8 2066.4 431.9C2071.3 427.0 2076.2 422.1 2081.1 417.2C2086.0 412.3 2091.0 406.6 2095.9 402.4C2100.8 398.3 2105.7 394.1 2110.6 392.1C2115.5 390.1 2120.5 388.2 2125.4 387.7C2130.3 387.2 2135.2 386.7 2140.1 386.5C2146.7 386.3 2153.4 386.0 2160.0 385.9C2208.4 385.4 2256.8 385.1 2305.2 385.6"/>
<path stroke="#B177DE" d="M210.8 79.9C213.5 79.2 216.2 80.4 218.9 81.8C220.5 82.7 222.1 85.3 223.8 88.6C224.7 90.5 225.7 96.3 226.6 98.2C228.2 101.4 229.9 104.0 231.5 105.0C233.4 106.2 235.3 107.3 237.2 107.9C238.9 108.4 240.5 107.1 242.1 107.9C243.0 108.3 244.0 112.5 245.0 113.7C247.2 116.2 249.5 117.9 251.7 119.4C254.3 121.2 256.9 120.7 259.4 123.3C261.0 124.9 262.6 130.8 264.2 134.9C265.2 137.3 266.2 140.8 267.1 142.6C268.3 144.6 269.5 146.0 270.6 146.4C272.0 146.9 273.4 145.4 274.9 142.6C275.8 140.7 276.8 134.8 277.8 131.0C278.7 127.1 279.7 121.4 280.6 119.4C282.6 115.5 284.5 113.8 286.4 111.7C288.4 109.7 290.3 107.0 292.2 105.9C293.8 105.0 295.4 104.3 297.0 105.0C298.6 105.7 300.3 107.6 301.9 108.8C303.1 109.8 304.4 111.2 305.7 111.7C307.3 112.4 308.9 111.1 310.5 109.8C312.1 108.5 313.8 104.6 315.4 103.0C316.6 101.8 317.9 100.8 319.2 100.5C320.5 100.2 321.8 101.4 323.1 103.0C324.4 104.6 325.6 110.8 326.9 113.7C328.2 116.5 329.5 119.3 330.8 120.4C332.1 121.5 333.4 120.3 334.6 117.5C335.6 115.4 336.6 109.8 337.5 105.9C338.8 100.8 340.1 93.4 341.4 90.5C343.0 86.9 344.6 84.3 346.2 83.8C348.5 83.0 350.7 82.2 353.0 82.4C354.9 82.5 356.8 83.7 358.8 84.7C360.0 85.4 361.3 88.3 362.6 91.5C363.9 94.6 365.2 101.7 366.5 107.9C367.8 114.1 369.0 123.5 370.3 129.1C371.6 134.6 372.9 139.1 374.2 142.6C376.1 147.8 378.0 151.1 380.0 156.1C381.3 159.4 382.5 162.4 383.8 167.7C384.8 171.6 385.8 179.2 386.7 185.0C387.7 190.8 388.6 198.9 389.6 202.4C390.6 205.8 391.5 207.8 392.5 208.2C393.5 208.5 394.4 205.9 395.4 202.4C396.4 198.8 397.3 186.5 398.3 177.3C399.3 168.0 400.2 157.9 401.2 146.4C402.2 135.0 403.1 119.1 404.1 107.9C404.7 100.4 405.4 90.8 406.0 88.6C407.0 85.2 407.9 82.5 408.9 82.4C409.9 82.3 410.8 82.0 411.8 82.8C413.7 84.3 415.6 86.6 417.6 88.6C420.1 91.1 422.7 92.9 425.3 96.3C426.9 98.4 428.5 102.7 430.1 105.9C431.4 108.5 432.7 112.1 434.0 113.7C435.3 115.2 436.5 115.9 437.8 115.6C439.1 115.3 440.4 113.6 441.7 111.7C442.7 110.3 443.6 106.5 444.6 105.0C445.5 103.4 446.5 102.3 447.5 102.5C448.4 102.6 449.4 105.3 450.4 107.9C451.0 109.6 451.7 113.9 452.3 115.6C453.1 117.6 453.8 119.2 454.6 119.4C455.4 119.7 456.3 117.9 457.1 115.6C457.8 113.8 458.4 109.3 459.1 105.9C459.7 102.6 460.3 97.1 461.0 95.3C461.9 92.6 462.9 90.7 463.9 90.9C465.2 91.1 466.4 92.6 467.7 94.4C469.0 96.1 470.3 99.8 471.6 104.0C472.9 108.2 474.2 115.8 475.4 123.3C476.7 130.8 478.0 140.7 479.3 150.3C480.6 159.9 481.9 170.3 483.1 181.2C484.4 192.1 485.7 204.1 487.0 215.9C488.0 224.7 488.9 233.6 489.9 242.9C490.5 249.1 491.2 256.7 491.8 262.1C492.5 267.6 493.1 273.2 493.8 275.6C494.4 278.1 495.0 280.3 495.7 280.5C496.5 280.7 497.4 278.9 498.2 275.6C499.0 272.7 499.7 265.4 500.5 260.2C501.3 255.1 502.1 247.8 502.8 244.8C504.0 240.2 505.1 236.4 506.3 236.7C507.6 237.0 508.9 238.1 510.1 240.0C511.4 241.9 512.7 244.5 514.0 246.7C515.6 249.4 517.2 251.3 518.8 254.4C519.8 256.3 520.8 260.7 521.7 262.1C523.3 264.6 524.9 266.0 526.5 267.0C527.8 267.7 529.1 267.1 530.4 267.9C531.4 268.5 532.3 271.1 533.3 273.7C534.3 276.3 535.2 282.6 536.2 285.3C537.5 288.9 538.8 291.5 540.0 292.6C541.1 293.5 542.2 290.4 543.3 287.2C544.2 284.8 545.0 274.9 545.8 266.0C546.8 255.7 547.8 238.9 548.7 227.4C549.7 216.0 550.7 202.9 551.6 196.6C552.9 188.1 554.2 180.5 555.5 178.2C557.1 175.5 558.7 173.1 560.3 171.9C561.3 171.2 562.2 170.8 563.2 171.5C564.2 172.2 565.1 179.4 566.1 185.0C566.9 189.5 567.6 198.3 568.4 202.4C569.0 205.7 569.7 207.1 570.3 207.2C571.5 207.3 572.7 197.8 573.9 185.0C574.5 178.0 575.1 158.2 575.8 146.4C576.4 134.7 577.1 121.3 577.7 113.7C578.4 106.0 579.0 98.6 579.6 96.3C580.6 92.8 581.6 89.3 582.5 88.6C584.5 87.2 586.4 85.0 588.3 85.3C590.2 85.6 592.2 86.3 594.1 87.6C595.7 88.7 597.3 90.7 598.9 92.4C600.9 94.5 602.8 97.3 604.7 99.2C607.0 101.4 609.2 101.8 611.5 104.0C613.4 105.9 615.3 109.2 617.2 112.7C618.9 115.6 620.5 120.4 622.1 123.3C623.4 125.6 624.6 128.2 625.9 129.1C627.2 129.9 628.5 130.3 629.8 129.5C630.8 128.9 631.7 126.8 632.7 126.2C634.0 125.3 635.3 124.9 636.5 125.2C637.8 125.5 639.1 127.3 640.4 129.1C642.0 131.2 643.6 135.1 645.2 138.7C647.1 143.1 649.1 148.3 651.0 154.2C652.9 160.1 654.9 167.7 656.8 175.4C658.7 183.0 660.6 191.7 662.6 200.4C664.2 207.7 665.8 215.3 667.4 223.6C668.7 230.2 670.0 237.7 671.2 244.8C672.5 251.9 673.8 258.9 675.1 266.0C676.4 273.1 677.7 280.5 679.0 287.2C680.3 294.0 681.5 299.8 682.8 306.5C684.1 313.2 685.4 321.2 686.7 327.7C687.6 332.6 688.6 338.3 689.6 341.2C690.7 344.7 691.9 347.5 693.0 348.0C694.1 348.4 695.2 345.2 696.3 341.2C697.0 338.9 697.6 330.8 698.2 327.7C699.2 323.0 700.2 318.8 701.1 317.1C702.4 314.9 703.7 312.3 705.0 314.2C706.0 315.7 706.9 319.4 707.9 321.9C708.9 324.5 709.8 328.0 710.8 329.6C711.8 331.3 712.7 329.9 713.7 327.7C714.5 325.9 715.4 320.5 716.2 316.1C716.8 312.8 717.5 306.6 718.1 304.6C719.0 301.8 719.9 301.0 720.8 301.7C721.7 302.3 722.5 304.8 723.3 308.4C724.0 311.2 724.6 317.8 725.3 321.9C725.9 326.1 726.5 331.4 727.2 333.5C728.1 336.8 729.1 339.2 730.1 339.3C731.2 339.5 732.4 336.9 733.5 333.5C734.3 331.3 735.1 325.3 735.9 320.0C736.8 313.4 737.8 303.5 738.8 296.9C739.7 290.2 740.7 283.7 741.6 279.5C742.9 274.0 744.2 269.1 745.5 266.0C747.1 262.2 748.7 258.2 750.3 256.4C751.9 254.5 753.5 252.7 755.1 252.1C756.8 251.5 758.4 251.8 760.0 252.5C761.3 253.1 762.5 255.6 763.8 258.3C765.1 261.0 766.4 266.3 767.7 269.9C769.0 273.4 770.3 277.7 771.5 279.5C772.8 281.3 774.1 281.4 775.4 281.4C776.7 281.5 778.0 279.4 779.3 275.6C779.9 273.8 780.5 265.6 781.2 260.2C782.2 252.1 783.1 243.5 784.1 235.2C785.0 226.8 786.0 217.5 787.0 210.1C787.9 202.7 788.9 194.1 789.9 190.8C790.8 187.5 791.8 184.9 792.8 184.0C793.7 183.2 794.7 182.6 795.6 183.1C796.6 183.6 797.6 185.9 798.5 188.9C799.8 192.8 801.1 200.4 802.4 206.2C803.7 212.0 805.0 217.1 806.3 223.6C807.2 228.4 808.2 234.6 809.1 240.9C810.1 247.3 811.1 254.8 812.0 262.1C813.0 269.6 814.0 277.6 814.9 285.3C815.9 293.0 816.9 301.4 817.8 308.4C818.8 315.5 819.8 321.3 820.7 327.7C821.7 334.2 822.7 342.6 823.6 347.0C824.9 352.9 826.2 354.3 827.5 352.8C828.4 351.7 829.4 343.6 830.4 335.4C831.0 330.0 831.7 319.9 832.3 310.4C833.1 299.0 833.8 284.1 834.6 271.8C835.4 258.4 836.3 244.8 837.1 233.2C838.1 219.8 839.0 206.9 840.0 196.6C841.0 186.3 841.9 176.1 842.9 169.6C844.2 160.9 845.5 152.1 846.8 148.4C848.4 143.7 850.0 139.3 851.6 137.8C853.5 135.9 855.4 133.7 857.4 133.3C859.3 133.0 861.2 132.6 863.1 132.9C865.1 133.3 867.0 134.0 868.9 134.9C870.5 135.6 872.2 137.2 873.8 137.8C875.4 138.3 877.0 138.5 878.6 138.3C880.5 138.1 882.4 136.9 884.4 135.8C886.3 134.7 888.2 132.8 890.1 131.0C892.1 129.2 894.0 127.0 895.9 124.2C897.5 122.0 899.2 118.2 900.8 115.6C902.7 112.4 904.6 109.6 906.5 106.9C908.5 104.2 910.4 101.4 912.3 99.2C914.6 96.6 916.8 94.1 919.1 92.4C921.7 90.5 924.2 88.7 926.8 87.6C930.0 86.3 933.2 84.9 936.4 84.3C940.3 83.7 944.2 83.1 948.0 82.8C950.9 82.6 953.8 82.2 956.8 82.2C965.8 82.2 974.8 83.0 983.8 82.9C995.0 82.7 1006.2 82.1 1017.5 81.8C1033.2 81.5 1049.0 82.0 1064.8 82.5C1069.8 82.7 1074.9 85.2 1079.9 85.2C1085.0 85.3 1090.1 83.1 1095.1 82.9C1098.5 82.7 1101.9 82.8 1105.3 83.2C1109.8 83.7 1114.3 85.2 1118.8 85.6C1125.5 86.1 1132.3 86.2 1139.0 86.6C1145.2 86.9 1151.4 87.5 1157.6 87.6C1162.6 87.7 1167.7 85.6 1172.8 84.9C1176.7 84.3 1180.6 84.1 1184.6 84.5C1186.5 84.8 1188.4 89.3 1190.3 89.3C1198.0 89.3 1205.6 88.9 1213.3 88.9C1230.1 89.0 1247.0 89.2 1263.9 89.3C1272.9 89.3 1281.9 87.7 1290.9 87.6C1293.7 87.5 1296.5 90.0 1299.3 90.0C1302.7 89.9 1306.1 86.7 1309.5 86.6C1313.4 86.5 1317.3 86.5 1321.3 86.6C1341.5 87.2 1361.8 87.7 1382.0 88.9C1395.5 89.8 1409.0 91.8 1422.5 93.3C1433.8 94.6 1445.0 95.6 1456.3 97.4C1467.5 99.1 1478.8 102.6 1490.0 104.8C1501.3 107.0 1512.5 108.7 1523.8 110.9C1535.0 113.0 1546.3 115.3 1557.5 118.3C1563.1 119.8 1568.8 122.6 1574.4 126.1C1580.0 129.6 1585.6 136.0 1591.3 141.2C1596.9 146.5 1602.5 152.9 1608.2 157.4C1613.2 161.6 1618.3 161.9 1623.3 165.6C1625.6 167.2 1627.8 170.4 1630.1 175.0C1631.8 178.4 1633.5 186.9 1635.2 191.9C1636.8 196.9 1638.5 203.4 1640.2 205.4C1641.9 207.3 1643.6 209.0 1645.3 208.8C1647.5 208.4 1649.8 206.2 1652.1 206.1C1655.4 205.9 1658.8 210.9 1662.2 212.1C1663.9 212.8 1665.6 209.6 1667.2 205.4C1668.4 202.5 1669.5 191.0 1670.6 185.1C1672.3 176.3 1674.0 165.2 1675.7 161.5C1677.9 156.6 1680.2 152.6 1682.4 152.1C1684.7 151.5 1686.9 150.5 1689.2 151.4C1693.1 152.9 1697.1 155.5 1701.0 157.4C1705.5 159.7 1710.0 161.5 1714.5 164.2C1720.1 167.6 1725.8 173.2 1731.4 178.4C1739.3 185.6 1747.1 193.6 1755.0 202.0C1762.9 210.4 1770.8 220.0 1778.6 229.0C1786.5 238.0 1794.4 247.6 1802.3 256.0C1809.0 263.2 1815.8 270.1 1822.5 276.3C1828.1 281.4 1833.8 287.1 1839.4 290.4C1845.0 293.8 1850.6 296.8 1856.3 298.2C1860.8 299.3 1865.3 300.7 1869.8 300.6C1876.5 300.4 1883.3 299.3 1890.0 298.2C1896.8 297.1 1903.5 295.4 1910.3 293.8C1913.2 293.1 1916.1 292.4 1919.0 291.5C1923.9 289.9 1928.8 286.4 1933.7 282.6C1938.6 278.8 1943.6 272.3 1948.5 266.4C1953.4 260.5 1958.3 253.8 1963.2 247.2C1968.1 240.6 1973.0 233.4 1977.9 226.6C1982.8 219.7 1987.8 212.9 1992.7 206.0C1997.6 199.1 2002.5 191.9 2007.4 185.3C2012.3 178.6 2017.3 172.2 2022.2 166.1C2027.1 160.0 2032.0 153.8 2036.9 148.5C2041.8 143.1 2046.8 138.4 2051.7 133.7C2056.6 129.1 2061.5 124.8 2066.4 120.4C2071.3 116.0 2076.2 111.4 2081.1 107.2C2086.0 103.0 2091.0 98.5 2095.9 95.4C2100.8 92.4 2105.7 89.5 2110.6 88.0C2115.5 86.4 2120.5 84.9 2125.4 84.3C2130.3 83.7 2135.2 82.9 2140.1 82.9C2146.7 82.9 2153.4 82.9 2160.0 82.9C2208.4 82.6 2256.8 82.5 2305.2 82.2"/>
</g>
<circle cx="210.8" cy="1373.4" r="5.2" fill="#515151"/>
<circle cx="210.8" cy="984.4" r="5.2" fill="#F14040"/>
<circle cx="210.8" cy="700.5" r="5.2" fill="#1A6FDF"/>
<circle cx="210.8" cy="382.8" r="5.2" fill="#37AD6B"/>
<circle cx="210.8" cy="79.9" r="5.2" fill="#B177DE"/>
<g font-family="'Liberation Sans', Arial, sans-serif" font-size="72.7" text-anchor="middle" fill="#000">
<text x="483.6" y="1852.3">1000</text>
<text x="1090.7" y="1852.3">2000</text>
<text x="1697.9" y="1852.3">3000</text>
<text x="2305.0" y="1852.3">4000</text>
</g>
<g font-family="'Liberation Serif', 'Times New Roman', serif" font-size="57" fill="#000" style="font-kerning:none">
<text x="238.6" y="207.8">417</text>
<text x="299.7" y="243.4">850</text>
<text x="383.6" y="320.0">1019</text>
<text x="500.9" y="349.9">1142</text>
<text x="692.8" y="388.0">1479</text>
<text x="819.1" y="380.2">1566</text>
<text x="1596.3" y="277.3">2940</text>
<text x="1838.7" y="356.0">3287</text>
<text x="243.4" y="475.3">415</text>
<text x="342.1" y="536.5">846</text>
<text x="493.2" y="701.5">1142</text>
<text x="644.6" y="633.5">1407</text>
<text x="787.5" y="617.5">1647</text>
<text x="908.5" y="483.4">1734</text>
<text x="1580.8" y="566.8">2917</text>
<text x="1833.1" y="658.0">3369</text>
<text x="261.4" y="793.1">410</text>
<text x="343.7" y="869.3">846</text>
<text x="478.7" y="1009.7">1142</text>
<text x="652.3" y="971.5">1408</text>
<text x="776.7" y="926.2">1563</text>
<text x="848.5" y="821.6">1650</text>
<text x="1585.2" y="925.0">2940</text>
<text x="1816.2" y="998.3">3275</text>
<text x="265.1" y="1061.4">410</text>
<text x="373.5" y="1161.1">844</text>
<text x="431.1" y="1381.7">1018</text>
<text x="578.8" y="1279.7">1231</text>
<text x="650.2" y="1168.2">1409</text>
<text x="776.7" y="1119.7">1564</text>
<text x="891.7" y="1197.8">1734</text>
<text x="1605.9" y="1153.2">2942</text>
<text x="1850.0" y="1246.5">3307</text>
<text x="347.2" y="1539.3">647</text>
<text x="422.0" y="1698.0">1018</text>
<text x="674.5" y="1669.5">1408</text>
<text x="809.1" y="1609.7">1562</text>
<text x="926.0" y="1456.7">1655</text>
<text x="1608.8" y="1590.0">2940</text>
<text x="1826.4" y="1693.6">3269</text>
</g>
<g font-family="'Liberation Serif', 'Times New Roman', serif" font-size="73.3" fill="#000" style="font-kerning:none">
<text transform="translate(2135.8 154.1) scale(0.968 1)">PZ20</text>
<text transform="translate(2145.8 459.7) scale(0.968 1)">PZ15</text>
<text transform="translate(2145.8 789.7) scale(0.968 1)">PZ10</text>
<text transform="translate(2175.7 1061.8) scale(0.968 1)">PZ5</text>
<text transform="translate(2179.9 1445.7) scale(0.968 1)">PZ0</text>
</g>
<g font-family="'Liberation Serif', 'Times New Roman', serif" font-size="98.2" fill="#000" text-anchor="middle" style="font-kerning:none">
<text transform="translate(1244.2 2005.8) scale(0.9842 1)">Wave number (cm<tspan font-size="67" dy="-40">-1</tspan><tspan dy="40">)</tspan></text>
<text transform="translate(90.2 863.7) rotate(-90) scale(0.9876 1)">Transmittance</text>
</g>
</svg>
</body></html>
